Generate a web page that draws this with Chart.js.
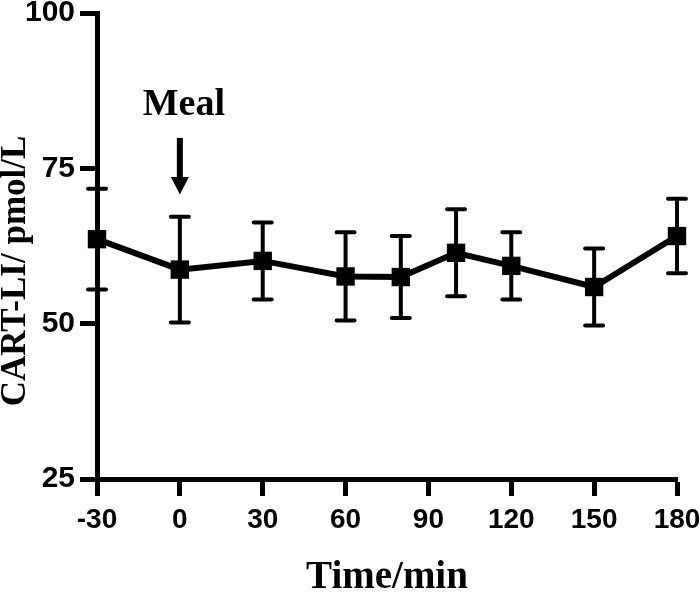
<!DOCTYPE html>
<html>
<head>
<meta charset="utf-8">
<script src="https://cdn.jsdelivr.net/npm/chart.js@4"></script>
<style>
  body { margin: 0; background: #fff; }
  #wrap { width: 700px; height: 593px; }
</style>
</head>
<body>
<div id="wrap"><canvas id="cart" width="700" height="593"></canvas></div>
<script>
// data
const times = [-30, 0, 30, 60, 80, 100, 120, 150, 180]
const means = [63.6, 58.7, 60.1, 57.6, 57.5, 61.4, 59.3, 55.9, 64.1]
const sems  = [8.1, 8.5, 6.2, 7.1, 6.6, 7.0, 5.4, 6.2, 6.0]
const xTicks = [-30, 0, 30, 60, 90, 120, 150, 180]
const yTicks = [25, 50, 75, 100]

// meal marker (in axis units)
const mealTime = 0
const mealLabel = "Meal"
const yTitle = "CART-LI/ pmol/L"

// ===================== error bars =====================
const errorBars = {
  id: "errorBars",
  afterDatasetsDraw(chart) {
    const xs = chart.scales.x, ys = chart.scales.y
    const ctx = chart.ctx
    ctx.save()
    ctx.strokeStyle = "#000"
    ctx.lineWidth = 4
    ctx.lineCap = "round"
    times.forEach((t, i) => {
      const px = xs.getPixelForValue(t)
      const top = ys.getPixelForValue(means[i] + sems[i])
      const bot = ys.getPixelForValue(means[i] - sems[i])
      ctx.beginPath()
      ctx.moveTo(px, top); ctx.lineTo(px, bot)
      ctx.moveTo(px - 9, top); ctx.lineTo(px + 9, top)
      ctx.moveTo(px - 9, bot); ctx.lineTo(px + 9, bot)
      ctx.stroke()
    })
    ctx.restore()
  }
}

// ===================== meal arrow + y title =====================
const notes = {
  id: "notes",
  afterDraw(chart) {
    const xs = chart.scales.x, ys = chart.scales.y
    const ctx = chart.ctx
    const px = xs.getPixelForValue(mealTime)
    ctx.save()
    ctx.fillStyle = "#000"
    ctx.font = "bold 38px 'Liberation Serif', 'Times New Roman', serif"
    ctx.textAlign = "center"
    ctx.textBaseline = "alphabetic"
    ctx.fillText(mealLabel, px + 4, ys.getPixelForValue(83.6))
    const a = ys.getPixelForValue(79.9), b = ys.getPixelForValue(73.6), c = ys.getPixelForValue(70.8)
    ctx.fillRect(px - 3, a, 6, b - a + 1)
    ctx.beginPath()
    ctx.moveTo(px - 9, b); ctx.lineTo(px + 9, b); ctx.lineTo(px, c)
    ctx.closePath()
    ctx.fill()

    // y axis title, rotated, baseline toward the axis
    ctx.translate(25, 271)
    ctx.rotate(-Math.PI / 2)
    ctx.font = "bold 35px 'Liberation Serif', 'Times New Roman', serif"
    ctx.textBaseline = "alphabetic"
    ctx.fillText(yTitle, 0, 0)
    ctx.restore()
  }
}

const cart = document.getElementById("cart")
let cartChart = new Chart(cart, {
  type: "line",
  data: {
    datasets: [{
      label: "CART-LI",
      data: times.map((t, i) => ({ x: t, y: means[i] })),
      borderColor: "#000",
      backgroundColor: "#000",
      borderWidth: 6,
      pointStyle: "rect",
      pointRadius: 13,
      pointBorderWidth: 0,
      tension: 0,
      clip: false
    }]
  },
  options: {
    responsive: false,
    animation: false,
    layout: { padding: { top: 13, right: 23, left: 0, bottom: 0 } },
    plugins: { legend: { display: false }, tooltip: { enabled: false } },
    scales: {
      x: {
        type: "linear",
        min: -30, max: 180,
        afterBuildTicks: s => { s.ticks = xTicks.map(v => ({ value: v })) },
        afterFit: s => { s.height = 114; s.paddingLeft = 0; s.paddingRight = 0 },
        border: { display: true, color: "#000", width: 5 },
        grid: { drawOnChartArea: false, drawTicks: true, tickLength: 17, tickWidth: 5, tickColor: "#000" },
        ticks: { color: "#000", padding: 7, font: { family: "'Liberation Sans', Arial, sans-serif", size: 28, weight: "bold" } },
        title: {
          display: true, text: "Time/min", color: "#000",
          padding: { top: 0, bottom: 0 },
          font: { family: "'Liberation Serif', 'Times New Roman', serif", size: 39, weight: "bold", lineHeight: 0.77 }
        }
      },
      y: {
        min: 25, max: 100,
        afterBuildTicks: s => { s.ticks = yTicks.map(v => ({ value: v })) },
        afterFit: s => { s.width = 97; s.paddingTop = 0; s.paddingBottom = 0 },
        border: { display: true, color: "#000", width: 5 },
        grid: { drawOnChartArea: false, drawTicks: true, tickLength: 17, tickWidth: 5, tickColor: "#000" },
        ticks: { color: "#000", padding: 5, font: { family: "'Liberation Sans', Arial, sans-serif", size: 30, weight: "bold" } },
        title: { display: false }
      }
    }
  },
  plugins: [errorBars, notes]
})
</script>
</body>
</html>
